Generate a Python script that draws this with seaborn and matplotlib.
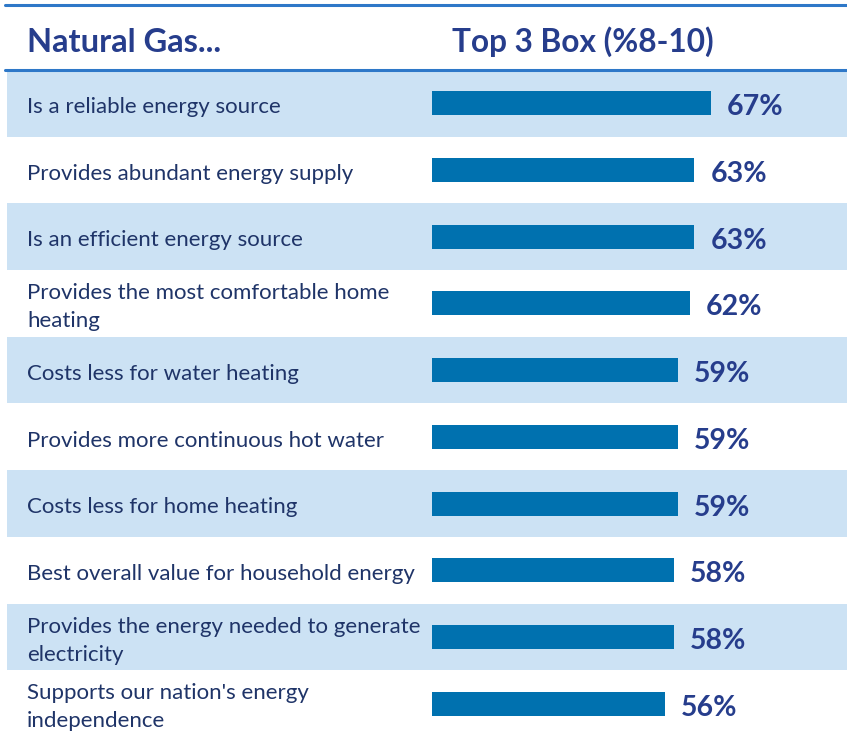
import seaborn as sns
import pandas as pd
import matplotlib.pyplot as plt

# chart data
statements = [
    "Is a reliable energy source",
    "Provides abundant energy supply",
    "Is an efficient energy source",
    "Provides the most comfortable home\nheating",
    "Costs less for water heating",
    "Provides more continuous hot water",
    "Costs less for home heating",
    "Best overall value for household energy",
    "Provides the energy needed to generate\nelectricity",
    "Supports our nation's energy\nindependence",
]
top3_pct = [67, 63, 63, 62, 59, 59, 59, 58, 58, 56]
col_left = "Natural Gas..."
col_right = "Top 3 Box (%8-10)"

BAR = "#0071AF"
SHADE = "#CCE2F4"
NAVY = "#263D8C"
TXT = "#1F3468"
LINE = "#2E78C8"

sns.set_theme(style="white")
plt.rcParams['font.family'] = ['Lato', 'DejaVu Sans']

df = pd.DataFrame({"statement": statements, "pct": top3_pct})

fig = plt.figure(figsize=(8.47, 7.37), dpi=100)
ax = fig.add_axes([0, 0, 1, 1])

px_per_unit = 4.164
x0 = -432 / px_per_unit
x1 = (847 - 432) / px_per_unit
row_px = 66.7
ytop = -0.5 - 70 / row_px

# shaded rows
for i in range(0, len(statements), 2):
    ax.axhspan(i - 0.5, i + 0.5, xmin=7 / 847, xmax=1, color=SHADE, lw=0, zorder=0)

sns.barplot(data=df, x="pct", y="statement", orient="h", color=BAR,
            width=24 / row_px, saturation=1, linewidth=0, ax=ax, zorder=2)

ax.set_xlim(x0, x1)
ax.set_ylim(len(statements) - 0.5, ytop)
ax.axis("off")

# header lines
ax.axhline(ytop + 5 / row_px, xmin=5 / 847, xmax=1, color=LINE, lw=2.2)
ax.axhline(-0.5, xmin=5 / 847, xmax=1, color=LINE, lw=2.2)

xlab = x0 + 27 / px_per_unit
ax.text(xlab, ytop + 42 / row_px, col_left, fontsize=23.5, fontweight="bold",
        color=NAVY, va="center", ha="left")
ax.text(x0 + 452 / px_per_unit, ytop + 42 / row_px, col_right, fontsize=22.8,
        fontweight="bold", color=NAVY, va="center", ha="left")

for i, (s, v) in enumerate(zip(statements, top3_pct)):
    ax.text(xlab, i + 0.055, s, fontsize=16, color=TXT, va="center", ha="left",
            linespacing=1.5)
    ax.text(v + 16 / px_per_unit, i + 0.06, f"{v}%", fontsize=20.5,
            fontweight="bold", color=NAVY, va="center", ha="left")

fig.savefig("out.png", dpi=100)
